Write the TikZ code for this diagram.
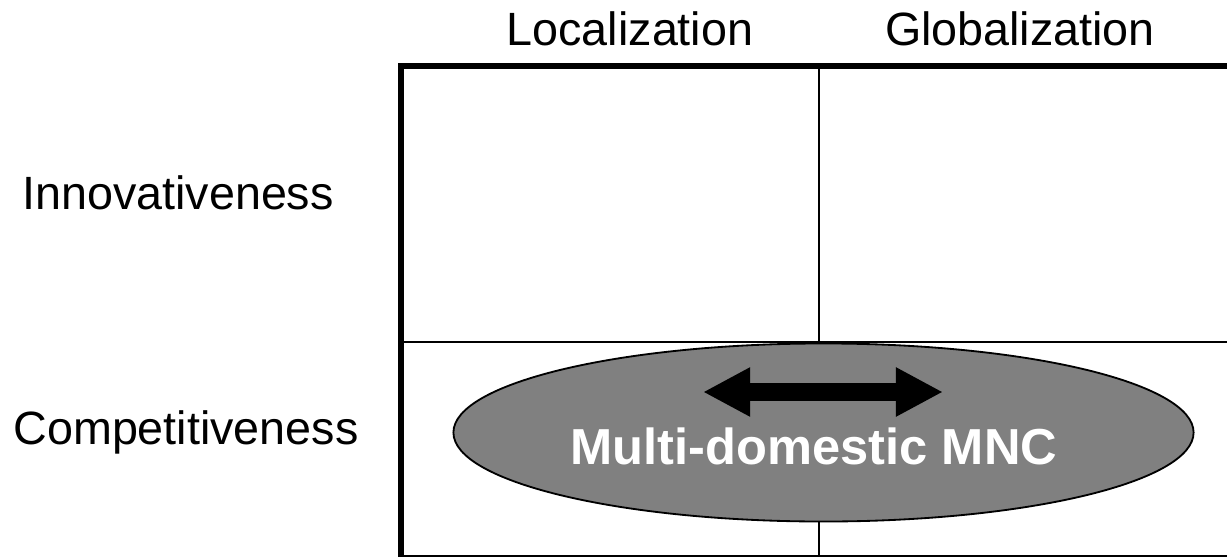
\documentclass[tikz,border=0pt]{standalone}
\usepackage{fontspec}
\setmainfont{Liberation Sans}
\usepackage{tikz}
\usetikzlibrary{shapes.geometric,arrows.meta}

\begin{document}
\begin{tikzpicture}[x=0.025cm,y=-0.025cm]
			\useasboundingbox (0,0) rectangle (1227,557);
			\tikzset{lbl/.style={font=\fontsize{33.2}{38}\selectfont, inner sep=0pt}}
			
			\node[lbl] (loc) at (630,29) {Localization};
			\node[lbl] (glob) at (1020,29) {Globalization};
			\node[lbl] (inno) at (178,193) {Innovativeness};
			\node[lbl] (comp) at (186,432) {Competitiveness};
			
			\draw[line width=1.4pt] (819,66) -- (819,558);
			\draw[line width=1.4pt] (401,342) -- (1231,342);
			\draw[line width=4.25pt] (401,66) rectangle (1231,558);
			
			\node[draw, ellipse, fill={rgb,255:red,128;green,128;blue,128}, line width=1.3pt, minimum width=18.5cm, minimum height=4.45cm] (mnc) at (823.5,432.5) {};
			\node[font=\bfseries\fontsize{36}{41}\selectfont, text=white, inner sep=0pt] (name) at (814,446) {Multi-domestic MNC};
			
			\coordinate (w) at (703,392);
			\coordinate (e) at (943,392);
			\draw[line width=0.45cm, {Triangle[length=1.18cm,width=1.15cm]}-{Triangle[length=1.18cm,width=1.15cm]}] (w) -- (e);

		\end{tikzpicture}
\end{document}
